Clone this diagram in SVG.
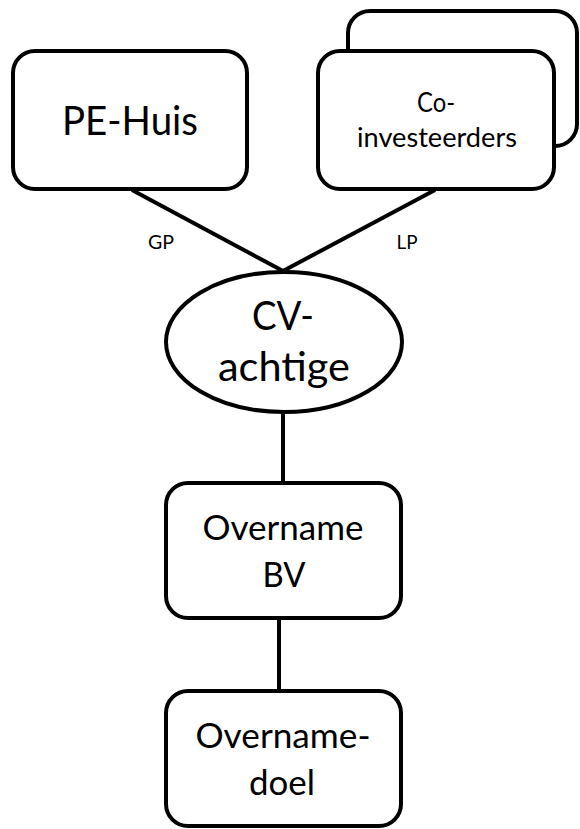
<svg xmlns="http://www.w3.org/2000/svg" width="580" height="829" viewBox="0 0 580 829">
<style>
.box{fill:#fff;stroke:#000;stroke-width:4}
.conn{stroke:#000;stroke-width:4;fill:none}
text{font-family:Lato,"Liberation Sans",sans-serif;fill:#000;text-anchor:middle}
.lbl{font-size:20px}
</style>
<rect width="580" height="829" fill="#fff"/>
<g id="connectors">
<line class="conn" x1="132" y1="190" x2="283" y2="271"/>
<line class="conn" x1="435" y1="190" x2="283" y2="271"/>
<line class="conn" x1="283" y1="412" x2="283" y2="483"/>
<line class="conn" x1="279" y1="618" x2="279" y2="691"/>
<text class="lbl" x="161" y="249" textLength="26" lengthAdjust="spacingAndGlyphs">GP</text>
<text class="lbl" x="407" y="249" textLength="21" lengthAdjust="spacingAndGlyphs">LP</text>
</g>
<g id="pe-huis">
<rect class="box" x="13" y="51" width="234" height="138" rx="22"/>
<text x="130" y="135" font-size="41" textLength="136" lengthAdjust="spacingAndGlyphs">PE-Huis</text>
</g>
<g id="co-investeerders">
<rect class="box" x="348" y="11" width="229" height="135" rx="22"/>
<rect class="box" x="318" y="51" width="236" height="138" rx="22"/>
<text x="436" y="112" font-size="27" textLength="38" lengthAdjust="spacingAndGlyphs">Co-</text>
<text x="437" y="147" font-size="27" textLength="160" lengthAdjust="spacingAndGlyphs">investeerders</text>
</g>
<g id="cv-achtige">
<ellipse class="box" cx="284" cy="342" rx="118" ry="70"/>
<text x="283" y="330" font-size="41" textLength="62" lengthAdjust="spacingAndGlyphs">CV-</text>
<text x="284" y="381" font-size="41" textLength="132" lengthAdjust="spacingAndGlyphs">achtige</text>
</g>
<g id="overname-bv">
<rect class="box" x="166" y="483" width="235" height="135" rx="22"/>
<text x="283" y="540" font-size="35" textLength="161" lengthAdjust="spacingAndGlyphs">Overname</text>
<text x="284" y="587" font-size="35" textLength="43" lengthAdjust="spacingAndGlyphs">BV</text>
</g>
<g id="overname-doel">
<rect class="box" x="166" y="691" width="235" height="135" rx="22"/>
<text x="283" y="748" font-size="35" textLength="175" lengthAdjust="spacingAndGlyphs">Overname-</text>
<text x="282" y="795" font-size="35" textLength="66" lengthAdjust="spacingAndGlyphs">doel</text>
</g>
</svg>
